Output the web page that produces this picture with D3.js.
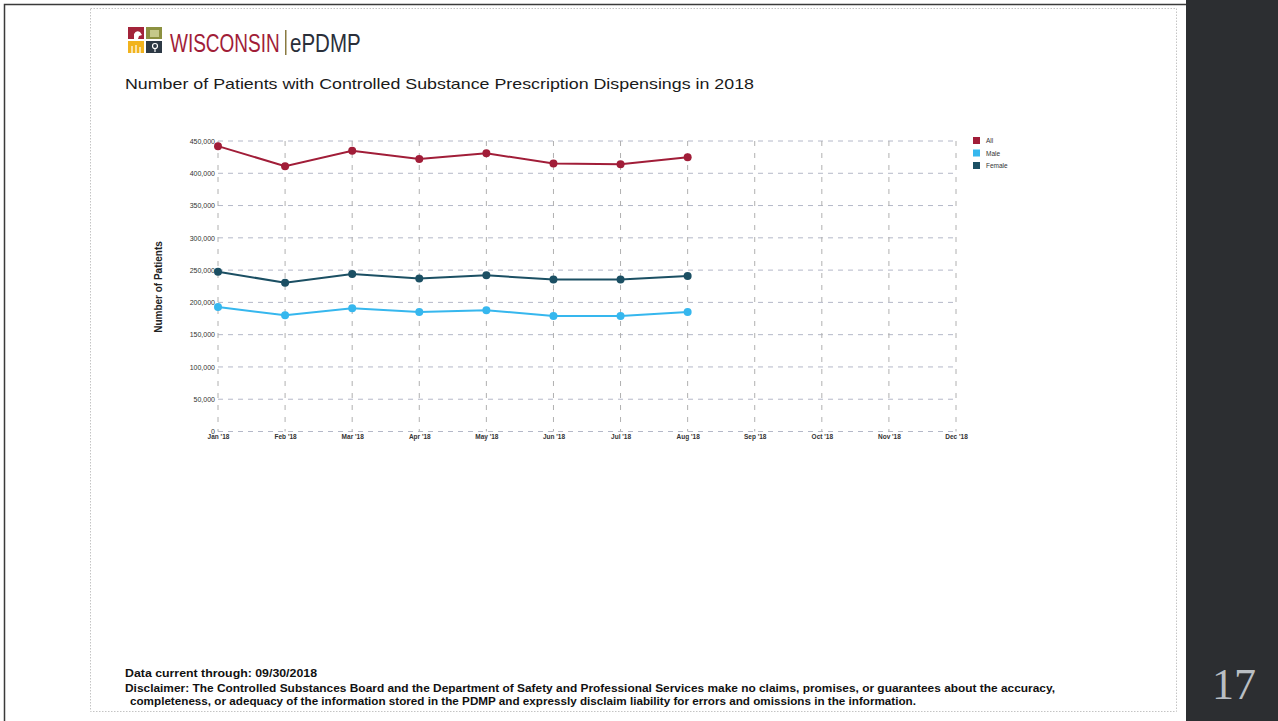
<!DOCTYPE html>
<html>
<head>
<meta charset="utf-8">
<script src="https://cdn.jsdelivr.net/npm/d3@7"></script>
<style>
  html, body { margin: 0; padding: 0; background: #ffffff; }
  svg { display: block; }
  text { font-family: "Liberation Sans", Arial, sans-serif; }
</style>
</head>
<body>
<svg id="slide" width="1278" height="721"></svg>
<script>
// Monthly counts of patients receiving controlled substance dispensings, 2018
const months = ["Jan '18", "Feb '18", "Mar '18", "Apr '18", "May '18", "Jun '18",
                "Jul '18", "Aug '18", "Sep '18", "Oct '18", "Nov '18", "Dec '18"];
const allPatients    = [442000, 411000, 435000, 422000, 431000, 415000, 414000, 425000];
const malePatients   = [193000, 180000, 191000, 185000, 188000, 179000, 179000, 185000];
const femalePatients = [247500, 230500, 244000, 237000, 242000, 235500, 235500, 241000];
const yTicks = [0, 50000, 100000, 150000, 200000, 250000, 300000, 350000, 400000, 450000];
const seriesNames  = ["All", "Male", "Female"];
const seriesColors = ["#a11d38", "#36b7ee", "#1b4f63"];

const svg = d3.select("#slide");

// Slide frame and dark side panel
svg.append("rect").attr("x", 0).attr("y", 0).attr("width", 1278).attr("height", 721).attr("fill", "#ffffff");
svg.append("rect").attr("x", 1186).attr("y", 0).attr("width", 92).attr("height", 721).attr("fill", "#2c2e31");
svg.append("path").attr("d", "M4.5,721 V4.5 H1186").attr("fill", "none").attr("stroke", "#3a3a3a").attr("stroke-width", 1.5);
svg.append("rect").attr("x", 90.5).attr("y", 8.5).attr("width", 1086).attr("height", 703)
  .attr("fill", "none").attr("stroke", "#c4c4c4").attr("stroke-width", 1).attr("stroke-dasharray", "1.5,1.5");
svg.append("text").attr("x", 1234).attr("y", 699).attr("text-anchor", "middle")
  .style("font-family", "'Liberation Serif', 'DejaVu Serif', serif").style("font-size", "44px")
  .attr("fill", "#b9bec3").text("17");

// Logo tiles
const logo = svg.append("g").attr("transform", "translate(128,27)");
logo.append("rect").attr("x", 0).attr("y", 0).attr("width", 16).attr("height", 12).attr("fill", "#a3243a");
logo.append("rect").attr("x", 18).attr("y", 0).attr("width", 16).attr("height", 12).attr("fill", "#8c9140");
logo.append("rect").attr("x", 0).attr("y", 14).attr("width", 16).attr("height", 12).attr("fill", "#f1b31e");
logo.append("rect").attr("x", 18).attr("y", 14).attr("width", 16).attr("height", 12).attr("fill", "#2d3945");
logo.append("path").attr("d", "M6,12 V7 Q8,3 12,5 L14,8 L11,9 L10,12 Z").attr("fill", "#ffffff");
logo.append("rect").attr("x", 22).attr("y", 3).attr("width", 9).attr("height", 7).attr("fill", "#c5c98a");
logo.append("path").attr("d", "M4,26 V19 M8,26 V18 M12,26 V20").attr("stroke", "#ffffff").attr("stroke-width", 1.2);
logo.append("circle").attr("cx", 27).attr("cy", 19).attr("r", 2.5).attr("fill", "none").attr("stroke", "#ffffff").attr("stroke-width", 1.2);
logo.append("path").attr("d", "M27,21.5 V25").attr("stroke", "#ffffff").attr("stroke-width", 1.2);

// Wordmark, horizontally condensed
const word = svg.append("g").attr("transform", "translate(170,52) scale(0.76,1)");
word.append("text").attr("x", 0).attr("y", 0).style("font-size", "25px").attr("fill", "#a11d38").text("WISCONSIN");
svg.append("rect").attr("x", 285).attr("y", 30).attr("width", 1.5).attr("height", 25).attr("fill", "#8a7a40");
const word2 = svg.append("g").attr("transform", "translate(290,52) scale(0.82,1)");
word2.append("text").attr("x", 0).attr("y", 0).style("font-size", "25px").attr("fill", "#2a2f3a").text("ePDMP");

// Title
svg.append("text").attr("x", 125).attr("y", 89).attr("textLength", 629).attr("lengthAdjust", "spacingAndGlyphs")
  .style("font-size", "15px").attr("fill", "#1a1a1a")
  .text("Number of Patients with Controlled Substance Prescription Dispensings in 2018");

// Chart scales
const x = d3.scalePoint().domain(months).range([218, 956]);
const y = d3.scaleLinear().domain([0, 450000]).range([431.5, 141]);

const chart = svg.append("g");

// Grid lines
chart.append("g").selectAll("line").data(yTicks).join("line")
  .attr("x1", x.range()[0]).attr("x2", x.range()[1] + 2)
  .attr("y1", d => y(d)).attr("y2", d => y(d))
  .attr("stroke", "#b4b8c8").attr("stroke-width", 1).attr("stroke-dasharray", "5,5");
chart.append("g").selectAll("line").data(months).join("line")
  .attr("x1", d => x(d)).attr("x2", d => x(d))
  .attr("y1", y(450000)).attr("y2", y(0))
  .attr("stroke", "#b0b0b0").attr("stroke-width", 1).attr("stroke-dasharray", "5,7");

// Axes
const yAxis = chart.append("g").attr("transform", `translate(${x.range()[0]},0)`)
  .call(d3.axisLeft(y).tickValues(yTicks).tickSize(0).tickPadding(3).tickFormat(d3.format(",")));
yAxis.select(".domain").remove();
yAxis.selectAll("text").style("font-size", "7px").style("font-family", "'Liberation Sans', Arial, sans-serif").attr("fill", "#333");

const xAxis = chart.append("g").attr("transform", `translate(0,${y(0)})`)
  .call(d3.axisBottom(x).tickSize(0).tickPadding(3));
xAxis.select(".domain").remove();
xAxis.selectAll("text").style("font-size", "6.5px").style("font-weight", "bold")
  .style("font-family", "'Liberation Sans', Arial, sans-serif").attr("fill", "#333");

svg.append("text").attr("transform", "translate(162,287) rotate(-90)").attr("text-anchor", "middle")
  .style("font-size", "10px").style("font-weight", "bold").attr("fill", "#222").text("Number of Patients");

// Series lines and markers
const seriesData = [allPatients, malePatients, femalePatients];
const line = d3.line().x((d, i) => x(months[i])).y(d => y(d));
seriesData.forEach((vals, s) => {
  const g = chart.append("g");
  g.append("path").datum(vals).attr("d", line).attr("fill", "none")
    .attr("stroke", seriesColors[s]).attr("stroke-width", 2);
  g.selectAll("circle").data(vals).join("circle")
    .attr("cx", (d, i) => x(months[i])).attr("cy", d => y(d)).attr("r", 4)
    .attr("fill", seriesColors[s]);
});

// Legend
const legend = svg.append("g").attr("transform", "translate(973,137)");
seriesNames.forEach((name, i) => {
  legend.append("rect").attr("x", 0).attr("y", i * 12.5).attr("width", 7).attr("height", 7).attr("fill", seriesColors[i]);
  legend.append("text").attr("x", 13).attr("y", i * 12.5 + 6).style("font-size", "6.5px").attr("fill", "#333").text(name);
});

// Footer notes
const foot = svg.append("g").attr("fill", "#111").style("font-weight", "bold");
foot.append("text").attr("x", 125).attr("y", 677).attr("textLength", 192).attr("lengthAdjust", "spacingAndGlyphs")
  .style("font-size", "10.5px").text("Data current through: 09/30/2018");
foot.append("text").attr("x", 125).attr("y", 692).attr("textLength", 930).attr("lengthAdjust", "spacingAndGlyphs")
  .style("font-size", "10.5px")
  .text("Disclaimer: The Controlled Substances Board and the Department of Safety and Professional Services make no claims, promises, or guarantees about the accuracy,");
foot.append("text").attr("x", 130).attr("y", 705).attr("textLength", 786).attr("lengthAdjust", "spacingAndGlyphs")
  .style("font-size", "10.5px")
  .text("completeness, or adequacy of the information stored in the PDMP and expressly disclaim liability for errors and omissions in the information.");
</script>
</body>
</html>
